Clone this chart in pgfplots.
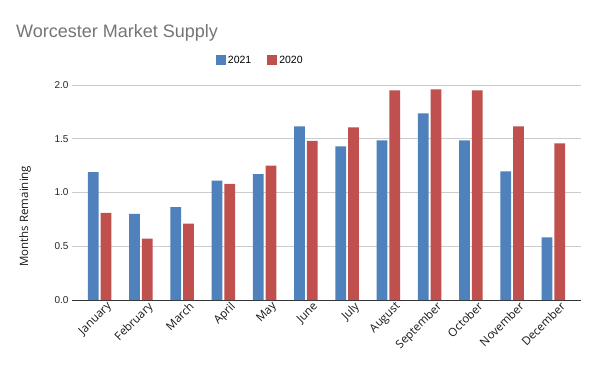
\documentclass[border=0pt]{standalone}
\usepackage{pgfplots}
\pgfplotsset{compat=1.18}
\usepackage{fontspec}
\setmainfont{Liberation Sans}
\newfontfamily\labfont{Open Sans}
\definecolor{cblue}{HTML}{4F81BD}
\definecolor{cred}{HTML}{C0504D}
\definecolor{titlegray}{HTML}{757575}
\definecolor{gridgray}{HTML}{CCCCCC}
\definecolor{axisdark}{HTML}{333333}
\begin{document}
\begin{tikzpicture}
\useasboundingbox[fill=white] (0,0) rectangle (600bp,371bp);
\node[anchor=base west, inner sep=0pt, text=titlegray, font=\fontsize{18bp}{22bp}\selectfont] at (16bp,333bp) {Worcester Market Supply};
\begin{axis}[
  at={(72bp,71bp)}, anchor=south west,
  scale only axis, width=509bp, height=215bp,
  ybar=2bp, bar width=10.7bp,
  xmin=-0.67, xmax=11.67, ymin=0, ymax=2,
  xtick=data,
  xticklabels={January,February,March,April,May,June,July,August,September,October,November,December},
  x tick label style={rotate=45, anchor=north east, font=\labfont\fontsize{11.5bp}{13bp}\selectfont, text=black!90, inner sep=1pt, xshift=5bp, yshift=-4bp},
  ytick={0,0.5,1,1.5,2},
  yticklabel style={/pgf/number format/.cd, fixed, fixed zerofill, precision=1, /tikz/.cd, font=\fontsize{10bp}{12bp}\selectfont, text=black!85},
  /pgf/number format/assume math mode=true,
  ymajorgrids, grid style={gridgray, line width=0.8pt},
  major tick length=0pt,
  axis x line*=bottom,
  axis y line*=left,
  y axis line style={draw=none},
  x axis line style={axisdark, line width=1pt, -},
  ylabel={Months Remaining},
  ylabel style={at={(axis description cs:-0.092,0.39)}, anchor=center, font=\labfont\fontsize{11.5bp}{13bp}\selectfont, text=black!90},
  legend columns=2,
  legend style={at={(axis description cs:0.37,1.114)}, anchor=center, draw=none, fill=none, font=\fontsize{10.5bp}{12bp}\selectfont, /tikz/every even column/.append style={column sep=14bp}},
  legend image code/.code={\fill[#1] (0bp,-5bp) rectangle (10bp,5bp);},
  clip=false,
]
\addplot[fill=cblue, draw=none] coordinates {(0,1.19) (1,0.80) (2,0.865) (3,1.11) (4,1.17) (5,1.615) (6,1.43) (7,1.485) (8,1.737) (9,1.485) (10,1.197) (11,0.583)};
\addplot[fill=cred, draw=none] coordinates {(0,0.81) (1,0.57) (2,0.71) (3,1.08) (4,1.25) (5,1.48) (6,1.605) (7,1.95) (8,1.96) (9,1.95) (10,1.615) (11,1.457)};
\legend{2021,2020}
\end{axis}
\end{tikzpicture}
\end{document}
